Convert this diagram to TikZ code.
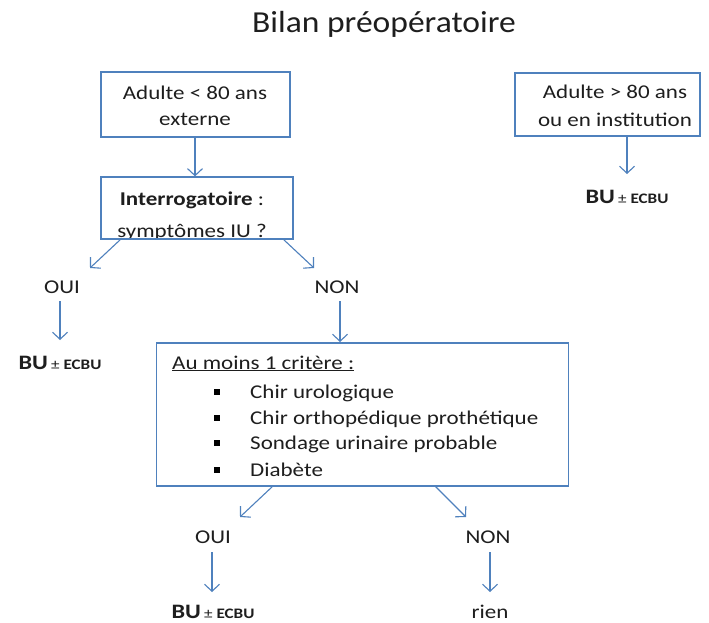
\documentclass[tikz,border=0pt]{standalone}
\usepackage{fontspec}
\setmainfont{Carlito}[FakeStretch=1.18]
\newfontfamily\titlefont{Carlito}[FakeStretch=1.1]
\usetikzlibrary{arrows.meta}
\definecolor{bblue}{HTML}{4F81BD}
\definecolor{txt}{HTML}{1E1E1E}
\newcommand{\bue}{{\fontsize{20.5}{24}\selectfont\textbf{BU}}\,{\fontsize{14.5}{16}\selectfont ± \textbf{ECBU}}}
\begin{document}
\begin{tikzpicture}[x=1pt,y=-1pt,
  every node/.style={text=txt, inner sep=0pt, font=\fontsize{19.5}{24}\selectfont},
  box/.style={draw=bblue, line width=1.3pt, inner sep=0pt},
  arr/.style={draw=bblue, line width=1.1pt, -{Straight Barb[length=7pt,width=15pt,line width=1.1pt]}},
  bul/.style={fill=black, minimum size=6pt, inner sep=0pt}]
\useasboundingbox[fill=white] (0,0) rectangle (709,623);

% title
\node[anchor=base, font=\titlefont\fontsize{30.5}{34}\selectfont] (title) at (384,33) {Bilan préopératoire};

% box 1
\node[box, minimum width=189pt, minimum height=65pt] (b1) at (195.5,104.5) {};
\node[anchor=base] (b1a) at (195,100) {Adulte < 80 ans};
\node[anchor=base] (b1b) at (195,126) {externe};

% box 2 (text clipped by the bottom edge)
\begin{scope}
  \clip (101,177) rectangle (293,239);
  \node[anchor=base] (b2a) at (192,205) {\textbf{Interrogatoire} :};
  \node[anchor=base] (b2b) at (192,237.5) {symptômes IU ?};
\end{scope}
\node[box, minimum width=192pt, minimum height=62pt] (b2) at (197,208) {};

% box 4
\node[box, minimum width=185pt, minimum height=63pt] (b4) at (607.5,104.5) {};
\node[anchor=base] (b4a) at (615,99) {Adulte > 80 ans};
\node[anchor=base] (b4b) at (615,127) {ou en institution};
\node (bu4) at (627,197) {\bue};

% first branch labels
\node (oui1) at (62,287) {OUI};
\node (non1) at (337,287) {NON};
\node (bu1) at (60,363) {\bue};

% box 3
\node[box, minimum width=412pt, minimum height=143pt] (b3) at (362.5,414.5) {};
\node[anchor=base west] (b3t) at (172,369) {\underline{Au moins 1 critère :}};
\node[bul] (bl1) at (217,392) {};
\node[bul] (bl2) at (217,418) {};
\node[bul] (bl3) at (217,443) {};
\node[bul] (bl4) at (217,470) {};
\node[anchor=base west] (c1) at (250,398) {Chir urologique};
\node[anchor=base west] (c2) at (250,424) {Chir orthopédique prothétique};
\node[anchor=base west] (c3) at (250,449) {Sondage urinaire probable};
\node[anchor=base west] (c4) at (250,476) {Diabète};

% second branch labels
\node (oui2) at (213,537) {OUI};
\node (non2) at (488,537) {NON};
\node (bu2) at (213,612) {\bue};
\node (rien) at (490,612) {rien};

% connector coordinates
\coordinate (b2l) at (121,239);
\coordinate (b2r) at (283,239);
\coordinate (e1l) at (90,268);
\coordinate (e1r) at (314,268);
\coordinate (b3l) at (273,486);
\coordinate (b3r) at (435,486);
\coordinate (e2l) at (240,517);
\coordinate (e2r) at (466,517);

% connectors
\draw[arr] (b1.south -| b1a) -- (b1a |- b2.north);
\draw[arr] (627,136) -- (627,174);
\draw[arr] (b2l) -- (e1l);
\draw[arr] (b2r) -- (e1r);
\draw[arr] (60,301) -- (60,340);
\draw[arr] (340,301) -- (340,342);
\draw[arr] (b3l) -- (e2l);
\draw[arr] (b3r) -- (e2r);
\draw[arr] (212,552) -- (212,592);
\draw[arr] (490,552) -- (490,592);
\end{tikzpicture}
\end{document}
